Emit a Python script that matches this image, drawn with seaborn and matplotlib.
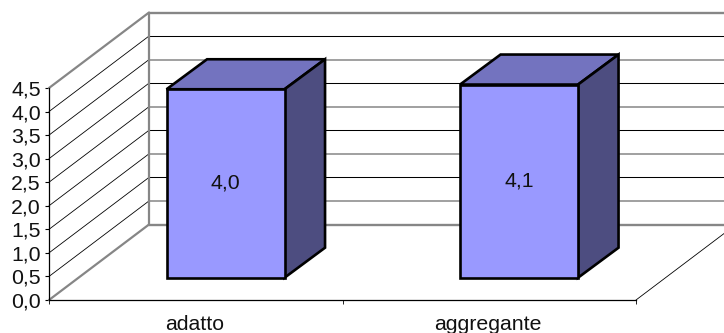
import matplotlib
matplotlib.use("Agg")
import matplotlib.pyplot as plt
from matplotlib.patches import Polygon
from matplotlib.transforms import Affine2D, IdentityTransform
from matplotlib.ticker import FuncFormatter, MultipleLocator
import pandas as pd
import seaborn as sns

categories = ["adatto", "aggregante"]
values = [4.0, 4.1]
y_ticks = [0.0, 0.5, 1.0, 1.5, 2.0, 2.5, 3.0, 3.5, 4.0, 4.5]

W, H = 724, 333
FONT = "Liberation Sans"
FS = 15.3

# Oblique projection, in pixels
WALL_DX, WALL_DY = 100, 75.5
BAR_DX, BAR_DY = 29.8, 22.3
DEPTH_DX, DEPTH_DY = 40.5, 30

FRONT, TOP, SIDE = "#9999FF", "#7373BF", "#4D4D80"
GREY = "#868686"

sns.set_theme(style="white")
plt.rcParams["font.family"] = [FONT, "DejaVu Sans"]

fig = plt.figure(figsize=(W / 100, H / 100), dpi=100, facecolor="white")
ax = fig.add_axes([49 / W, (H - 300) / H, (636 - 49) / W, (300 - 88) / H])
ax.patch.set_alpha(0)

df = pd.DataFrame({"category": categories, "value": values})
sns.barplot(data=df, x="category", y="value", color=FRONT, saturation=1,
            width=0.402, edgecolor="black", linewidth=1.9, ax=ax, zorder=5)
ax.set_xlim(-0.5, 1.5)
ax.set_ylim(0, 4.5)
ax.set_xlabel("")
ax.set_ylabel("")


def shifted(dx, dy):
    return ax.transData + Affine2D().translate(dx, dy)


identity = IdentityTransform()
to_px = ax.transData.transform

# Back wall and side wall grid: grey and black lines alternate
for i, t in enumerate(y_ticks):
    edge = i in (0, len(y_ticks) - 1)
    grey = edge or i % 2 == 1
    width = 1.7 if edge else (1.1 if grey else 0.75)
    ax.plot([-0.5, 1.5], [t, t], color=GREY if grey else "black", lw=width,
            clip_on=False, transform=shifted(WALL_DX, WALL_DY), zorder=1)
    x0, y0 = to_px((-0.5, t))
    ax.plot([x0, x0 + WALL_DX], [y0, y0 + WALL_DY], transform=identity,
            color=GREY if edge else "black", lw=1.6 if edge else 0.6,
            clip_on=False, zorder=1)

# Back wall left edge
ax.plot([-0.5, -0.5], [0, 4.5], color=GREY, lw=1.6, clip_on=False,
        transform=shifted(WALL_DX, WALL_DY), zorder=1)

# Right edge of the floor
x0, y0 = to_px((1.5, 0))
ax.plot([x0, x0 + WALL_DX], [y0, y0 + WALL_DY], transform=identity,
        color="black", lw=0.6, clip_on=False, zorder=1)

# Boxes: the front face comes from the bar, top and side are projected from it
for bar, value in zip(ax.patches, values):
    bar.set_transform(shifted(BAR_DX, BAR_DY))
    bar.set_clip_on(False)
    left, right = bar.get_x(), bar.get_x() + bar.get_width()
    xl, yb = to_px((left, 0)) + (BAR_DX, BAR_DY)
    xr, yt = to_px((right, value)) + (BAR_DX, BAR_DY)
    top = [(xl, yt), (xr, yt), (xr + DEPTH_DX, yt + DEPTH_DY), (xl + DEPTH_DX, yt + DEPTH_DY)]
    side = [(xr, yb), (xr + DEPTH_DX, yb + DEPTH_DY), (xr + DEPTH_DX, yt + DEPTH_DY), (xr, yt)]
    for pts, colour in ((top, TOP), (side, SIDE)):
        ax.add_patch(Polygon(pts, closed=True, facecolor=colour, edgecolor="black",
                             linewidth=1.9, joinstyle="miter", transform=identity,
                             clip_on=False, zorder=4))
    ax.text(left + bar.get_width() / 2, value / 2,
            f"{value:.1f}".replace(".", ","), ha="center", va="center",
            fontsize=FS, family=FONT, color="#111111",
            transform=shifted(BAR_DX, BAR_DY), zorder=6)

# Front axes
for name in ("top", "right"):
    ax.spines[name].set_visible(False)
for name in ("left", "bottom"):
    ax.spines[name].set_visible(True)
    ax.spines[name].set_color("black")
    ax.spines[name].set_linewidth(0.9)
    ax.spines[name].set_zorder(3)

ax.yaxis.set_major_locator(MultipleLocator(0.5))
ax.yaxis.set_major_formatter(FuncFormatter(lambda v, _: f"{v:.1f}".replace(".", ",")))
ax.tick_params(axis="y", left=True, length=3, width=0.8, color="black", pad=3,
               labelsize=FS, labelcolor="#111111")

# Category ticks sit between the categories, labels stay centred
ax.set_xticks([-0.5, 0.5, 1.5], minor=False, labels=["", "", ""])
ax.tick_params(axis="x", bottom=True, length=3, width=0.6, color="black")
for i, name in enumerate(categories):
    ax.annotate(name, (i, 0), xytext=(-1, -24.5), xycoords="data", textcoords="offset pixels",
                ha="center", va="center", fontsize=FS, family=FONT, color="#111111",
                annotation_clip=False)

fig.savefig("out.png", dpi=100, facecolor="white")
